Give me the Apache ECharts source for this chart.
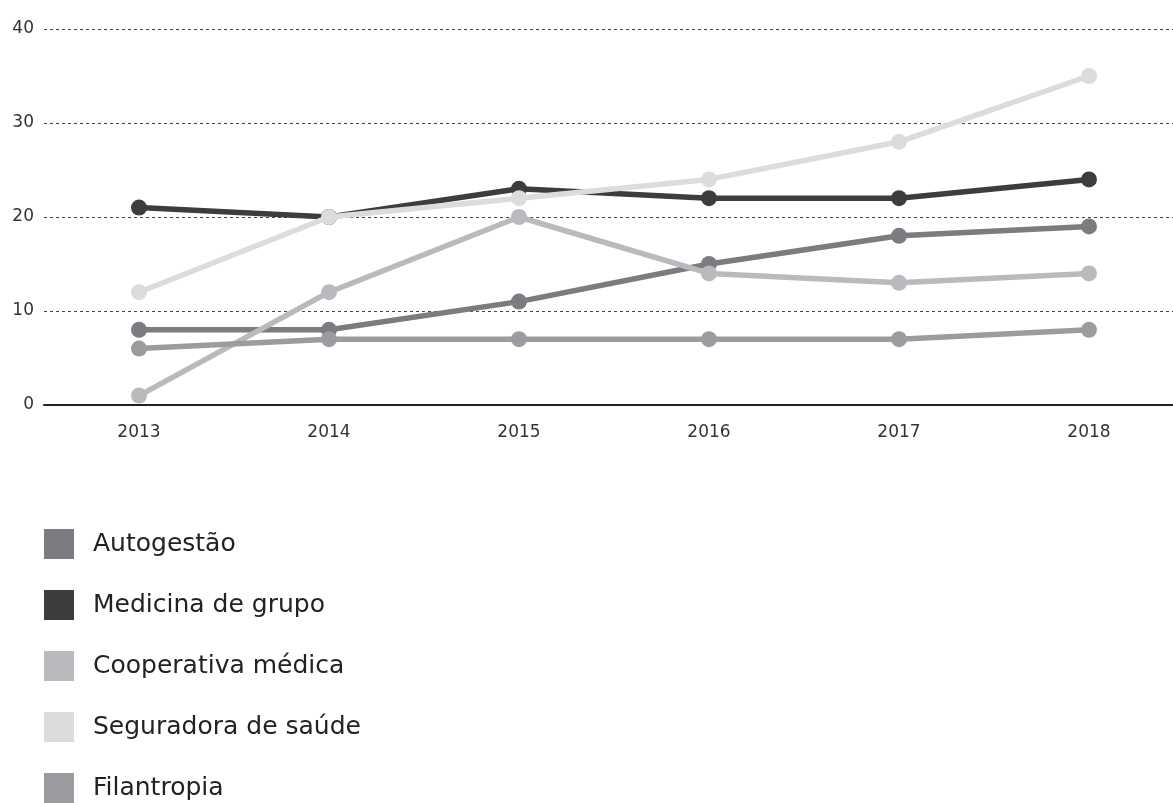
<!DOCTYPE html>
<html>
<head>
<meta charset="utf-8">
<script src="https://cdn.jsdelivr.net/npm/echarts@6/dist/echarts.min.js"></script>
<style>
  html, body { margin: 0; padding: 0; background: #fff; }
  #chart { width: 1173px; height: 803px; }
</style>
</head>
<body>
<div id="chart"></div>
<script>
// dados
const anos = ['2013', '2014', '2015', '2016', '2017', '2018']
const autogestao = [8, 8, 11, 15, 18, 19]
const medicinaGrupo = [21, 20, 23, 22, 22, 24]
const cooperativa = [1, 12, 20, 14, 13, 14]
const seguradora = [12, 20, 22, 24, 28, 35]
const filantropia = [6, 7, 7, 7, 7, 8]

const nomes = ['Autogestão', 'Medicina de grupo', 'Cooperativa médica', 'Seguradora de saúde', 'Filantropia']
const cores = ['#7b7b80', '#3d3d40', '#b9babd', '#dcdcdd', '#9b9ca0']
const valores = [autogestao, medicinaGrupo, cooperativa, seguradora, filantropia]

const chart = echarts.init(document.getElementById('chart'))

const series = nomes.map((nome, i) => ({
  name: nome,
  type: 'line',
  data: valores[i],
  symbol: 'circle',
  symbolSize: 16,
  z: i === 3 ? 4 : 2,
  lineStyle: { width: 5.5, color: cores[i] },
  itemStyle: { color: cores[i] }
}))

chart.setOption({
  animation: false,
  textStyle: { fontFamily: 'DejaVu Sans' },
  color: cores,
  grid: { left: 44, right: -11, top: 29, bottom: 398, outerBoundsMode: 'none' },
  legend: {
    orient: 'vertical',
    left: 39,
    top: 524,
    height: 400,
    itemWidth: 30,
    itemHeight: 30,
    itemGap: 31,
    icon: 'rect',
    data: nomes,
    textStyle: { fontSize: 25, color: '#222', padding: [8, 0, 0, 14] }
  },
  xAxis: {
    type: 'category',
    data: anos,
    boundaryGap: true,
    axisLine: { lineStyle: { color: '#222', width: 2 } },
    axisTick: { show: false },
    axisLabel: { fontSize: 17, color: '#333', margin: 19 }
  },
  yAxis: {
    type: 'value',
    min: 0,
    max: 40,
    interval: 10,
    axisLine: { show: false },
    axisTick: { show: false },
    axisLabel: { fontSize: 17, color: '#333', margin: 10, verticalAlign: 'middle', padding: [0, 0, 6, 0] },
    splitLine: { lineStyle: { color: '#444', type: [3, 3], width: 1 } }
  },
  series: series
})
</script>
</body>
</html>
